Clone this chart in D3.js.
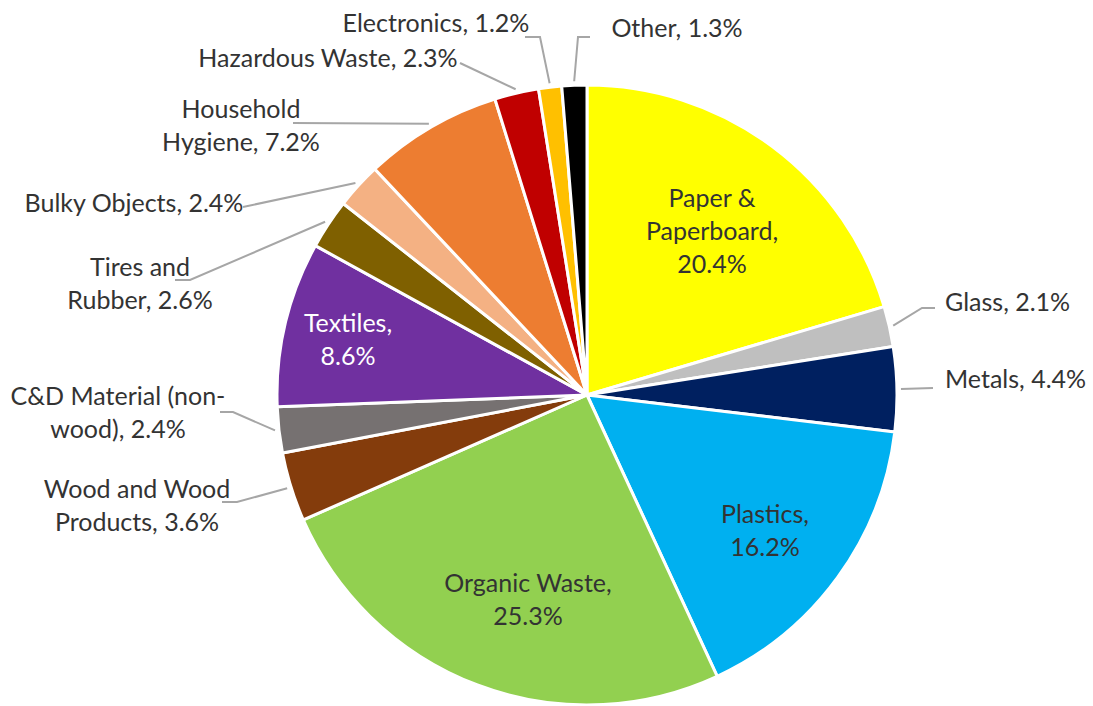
<!DOCTYPE html>
<html>
<head>
<meta charset="utf-8">
<script src="https://cdn.jsdelivr.net/npm/d3@7"></script>
<style>
  html, body { margin: 0; padding: 0; background: #fff; }
  svg { display: block; }
  text { font-family: Lato, "Open Sans", sans-serif; }
</style>
</head>
<body>
<svg id="chart" width="1093" height="706"></svg>
<script>
// Waste composition by material (percent of total)
const categories = [
  "Paper & Paperboard", "Glass", "Metals", "Plastics", "Organic Waste",
  "Wood and Wood Products", "C&D Material (non-wood)", "Textiles",
  "Tires and Rubber", "Bulky Objects", "Household Hygiene",
  "Hazardous Waste", "Electronics", "Other"
];
const shares = [20.4, 2.1, 4.4, 16.2, 25.3, 3.6, 2.4, 8.6, 2.6, 2.4, 7.2, 2.3, 1.2, 1.3];
const colors = [
  "#FFFF00", "#BFBFBF", "#002060", "#00B0F0", "#92D050",
  "#843C0C", "#767171", "#7030A0", "#7F6000", "#F4B183",
  "#ED7D31", "#C00000", "#FFC000", "#000000"
];

// Label placement: text lines ({v} is replaced by the share), anchor, and leader-line bends
const labelLayout = {
  "Paper & Paperboard":      { lines: ["Paper &", "Paperboard,", "{v}"], x: 712, y: 198, anchor: "middle" },
  "Glass":                   { lines: ["Glass, {v}"], x: 945, y: 302, anchor: "start", leader: [[922, 308], [935, 308]] },
  "Metals":                  { lines: ["Metals, {v}"], x: 945, y: 379, anchor: "start", leader: [[933, 388]] },
  "Plastics":                { lines: ["Plastics,", "{v}"], x: 765, y: 514, anchor: "middle" },
  "Organic Waste":           { lines: ["Organic Waste,", "{v}"], x: 528, y: 583, anchor: "middle" },
  "Wood and Wood Products":  { lines: ["Wood and Wood", "Products, {v}"], x: 137, y: 489, anchor: "middle", leader: [[237, 502], [222, 502]] },
  "C&D Material (non-wood)": { lines: ["C&D Material (non-", "wood), {v}"], x: 118, y: 396, anchor: "middle", leader: [[233, 412], [220, 412]] },
  "Textiles":                { lines: ["Textiles,", "{v}"], x: 348, y: 323, anchor: "middle", fill: "#ffffff" },
  "Tires and Rubber":        { lines: ["Tires and", "Rubber, {v}"], x: 140, y: 267, anchor: "middle", leader: [[190, 280], [175, 280]] },
  "Bulky Objects":           { lines: ["Bulky Objects, {v}"], x: 134, y: 203, anchor: "middle", leader: [[243, 207]] },
  "Household Hygiene":       { lines: ["Household", "Hygiene, {v}"], x: 241, y: 109, anchor: "middle", leader: [[293, 123]] },
  "Hazardous Waste":         { lines: ["Hazardous Waste, {v}"], x: 328, y: 58, anchor: "middle", leader: [[460, 63]] },
  "Electronics":             { lines: ["Electronics, {v}"], x: 436, y: 23, anchor: "middle", leader: [[540, 37], [525, 37]] },
  "Other":                   { lines: ["Other, {v}"], x: 677, y: 28, anchor: "middle", leader: [[578, 37], [590, 37]] }
};

const data = categories.map((name, i) => ({ name, value: shares[i], color: colors[i] }));

const svg = d3.select("#chart");
const cx = 587, cy = 395, radius = 310;
const lineHeight = 33;
const fontSize = 25;

const pie = d3.pie().value(d => d.value).sort(null);
const arc = d3.arc().innerRadius(0).outerRadius(radius);
const arcs = pie(data);

const g = svg.append("g").attr("transform", `translate(${cx},${cy})`);

// Slices
g.selectAll("path.slice")
  .data(arcs)
  .join("path")
  .attr("class", "slice")
  .attr("d", arc)
  .attr("fill", d => d.data.color)
  .attr("stroke", "#ffffff")
  .attr("stroke-width", 3)
  .attr("stroke-linejoin", "round");

// Leader lines from just outside each slice edge to its label
const edgeArc = d3.arc().innerRadius(radius + 4).outerRadius(radius + 4);
arcs.forEach(a => {
  const lay = labelLayout[a.data.name];
  if (!lay.leader) return;
  const [sx, sy] = edgeArc.centroid(a);
  const pts = [[sx + cx, sy + cy], ...lay.leader];
  svg.append("path")
    .attr("d", d3.line()(pts))
    .attr("fill", "none")
    .attr("stroke", "#A6A6A6")
    .attr("stroke-width", 2);
});

// Labels
arcs.forEach(a => {
  const lay = labelLayout[a.data.name];
  const vText = a.data.value.toFixed(1) + "%";
  const t = svg.append("text")
    .attr("x", lay.x)
    .attr("y", lay.y)
    .attr("text-anchor", lay.anchor)
    .attr("fill", lay.fill || "#333333")
    .attr("font-size", fontSize);
  lay.lines.forEach((ln, i) => {
    t.append("tspan")
      .attr("x", lay.x)
      .attr("y", lay.y + i * lineHeight)
      .attr("dy", "0.36em")
      .text(ln.replace("{v}", vText));
  });
});
</script>
</body>
</html>
